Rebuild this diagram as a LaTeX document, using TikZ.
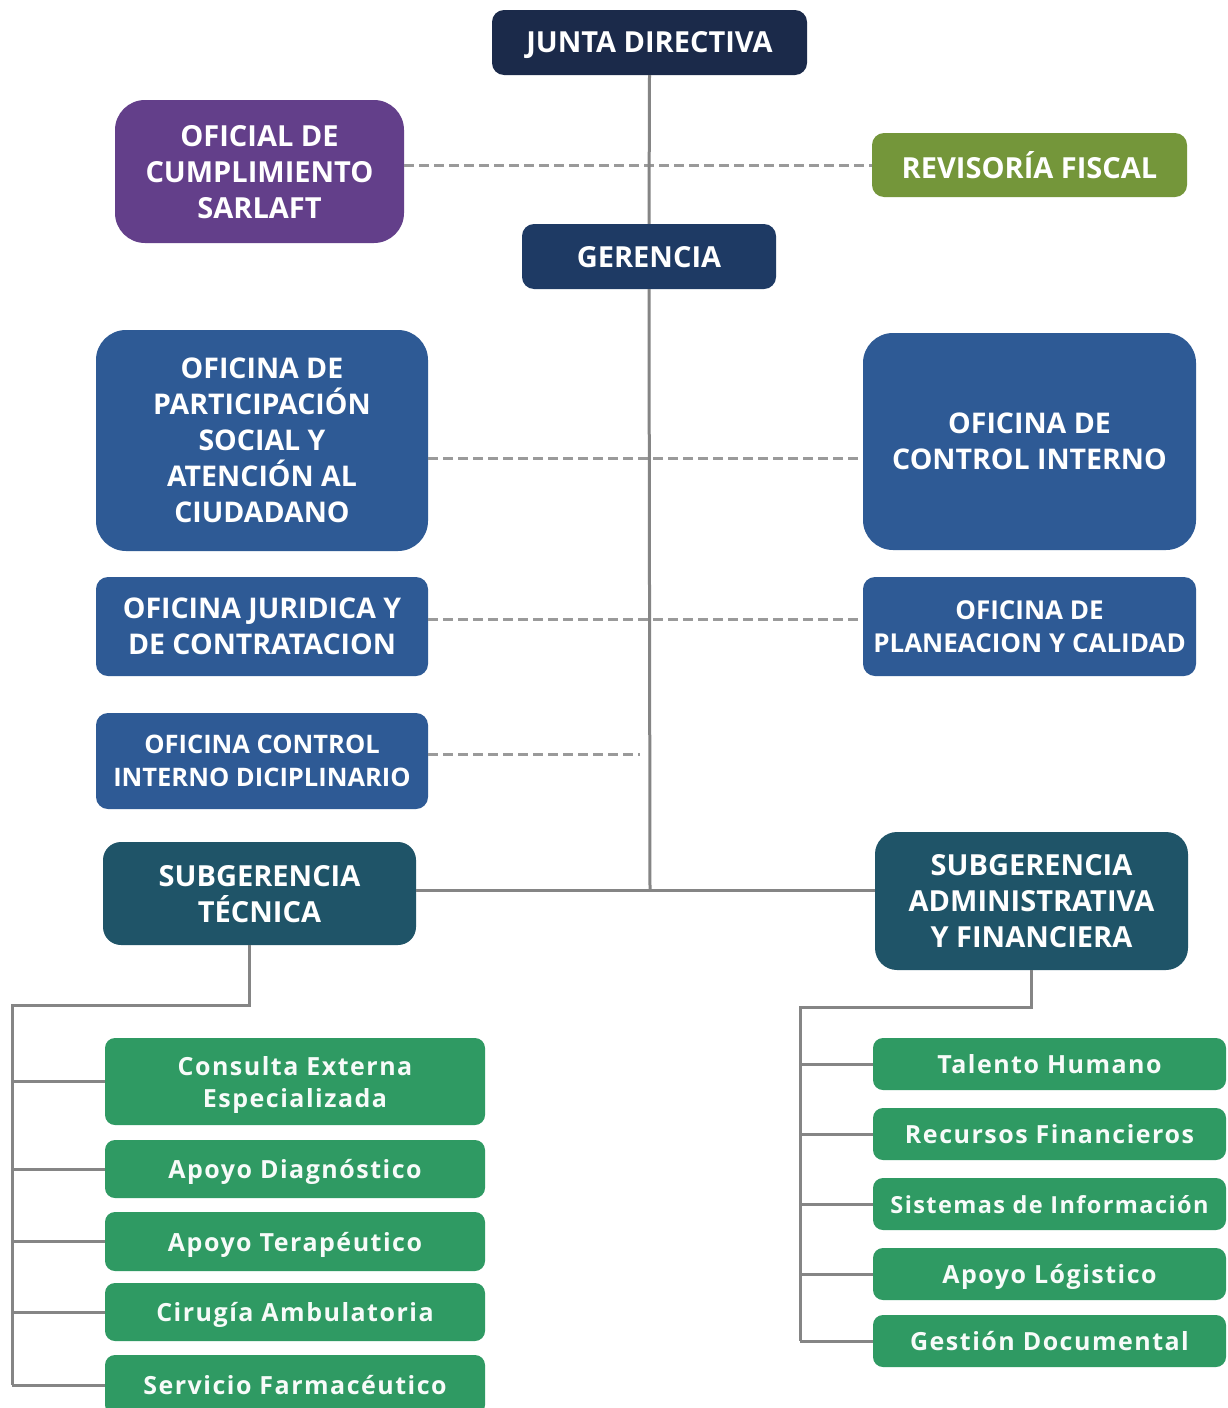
\documentclass[tikz,border=0pt]{standalone}
\usepackage{fontspec}
\setmainfont{Open Sans}
\newfontfamily\greenfont[LetterSpace=6]{Open Sans}
\usetikzlibrary{calc}
\definecolor{cJunta}{HTML}{1B2A4A}
\definecolor{cGer}{HTML}{1E3A64}
\definecolor{cPurple}{HTML}{633F8A}
\definecolor{cOlive}{HTML}{74963A}
\definecolor{cBlue}{HTML}{2E5A95}
\definecolor{cTeal}{HTML}{1F5468}
\definecolor{cGreen}{HTML}{2F9A63}
\definecolor{cLine}{HTML}{858585}
\definecolor{cDash}{HTML}{9A9A9A}
\tikzset{
  box/.style={rounded corners=12pt, inner sep=0pt, align=center, text depth=0pt, text=white, font=\bfseries\fontsize{29}{36}\selectfont},
  bigbox/.style={box, rounded corners=30pt},
  bluebox/.style={box, fill=cBlue, font=\bfseries\fontsize{28.5}{36}\selectfont},
  greenbox/.style={box, fill=cGreen, rounded corners=10pt, text=white!96!cGreen, font=\greenfont\bfseries\fontsize{25}{32}\selectfont},
  conn/.style={draw=cLine, line width=3pt},
  dconn/.style={draw=cDash, line width=3pt, dash pattern=on 10pt off 5pt},
}
\begin{document}
\begin{tikzpicture}[x=1pt,y=-1pt]
\clip (0,0) rectangle (1228,1408);
\fill[white] (0,0) rectangle (1228,1408);
% top level
\node[box, fill=cJunta, minimum width=315pt, minimum height=65pt] (junta) at (649.5,42.5) {JUNTA DIRECTIVA};
\node[box, fill=cGer, minimum width=254pt, minimum height=65pt] (ger) at (649,256.5) {GERENCIA};
\node[bigbox, fill=cPurple, minimum width=289pt, minimum height=143pt] (ofi) at (259.5,171.5) {OFICIAL DE\\CUMPLIMIENTO\\SARLAFT};
\node[box, fill=cOlive, minimum width=315pt, minimum height=64pt] (rev) at (1029.5,165) {REVISORÍA FISCAL};
% offices
\node[bluebox, rounded corners=30pt, minimum width=332pt, minimum height=221pt] (part) at (262,440.5) {OFICINA DE\\PARTICIPACIÓN\\SOCIAL Y\\ATENCIÓN AL\\CIUDADANO};
\node[bluebox, rounded corners=30pt, minimum width=333pt, minimum height=217pt] (ctrl) at (1029.5,441.5) {OFICINA DE\\CONTROL INTERNO};
\node[bluebox, minimum width=332pt, minimum height=99pt] (jur) at (262,626.5) {OFICINA JURIDICA Y\\DE CONTRATACION};
\node[bluebox, minimum width=333pt, minimum height=99pt, font=\bfseries\fontsize{26}{33}\selectfont] (plan) at (1029.5,626.5) {OFICINA DE\\PLANEACION Y CALIDAD};
\node[bluebox, minimum width=332pt, minimum height=96pt, font=\bfseries\fontsize{25.5}{33}\selectfont] (dici) at (262,761) {OFICINA CONTROL\\INTERNO DICIPLINARIO};
% subgerencias
\node[box, rounded corners=18pt, fill=cTeal, minimum width=313pt, minimum height=103pt] (subtec) at (259.5,893.5) {SUBGERENCIA\\TÉCNICA};
\node[box, rounded corners=22pt, fill=cTeal, minimum width=313pt, minimum height=138pt] (subadm) at (1031.5,901) {SUBGERENCIA\\ADMINISTRATIVA\\Y FINANCIERA};
% left green
\node[greenbox, minimum width=380pt, minimum height=87pt] (cons) at (295,1081.5) {Consulta Externa\\Especializada};
\node[greenbox, minimum width=380pt, minimum height=58pt] (diag) at (295,1169) {Apoyo Diagnóstico};
\node[greenbox, minimum width=380pt, minimum height=59pt] (tera) at (295,1241.5) {Apoyo Terapéutico};
\node[greenbox, minimum width=380pt, minimum height=58pt] (ciru) at (295,1312) {Cirugía Ambulatoria};
\node[greenbox, minimum width=380pt, minimum height=60pt] (serv) at (295,1385) {Servicio Farmacéutico};
% right green
\node[greenbox, minimum width=353pt, minimum height=52pt] (tal) at (1049.5,1064) {Talento Humano};
\node[greenbox, minimum width=353pt, minimum height=52pt] (rec) at (1049.5,1134) {Recursos Financieros};
\node[greenbox, minimum width=353pt, minimum height=52pt, font=\greenfont\bfseries\fontsize{23.5}{32}\selectfont] (sis) at (1049.5,1204) {Sistemas de Información};
\node[greenbox, minimum width=353pt, minimum height=52pt] (log) at (1049.5,1274) {Apoyo Lógistico};
\node[greenbox, minimum width=353pt, minimum height=52pt] (ges) at (1049.5,1341) {Gestión Documental};
% coordinates
\coordinate (J) at (650,890);
\coordinate (dP) at (650,458);
\coordinate (dJ) at (650,619);
\coordinate (dD) at (640,754);
\coordinate (tL) at (249,1005);
\coordinate (sL) at (12,1005);
\coordinate (tR) at (1031,1007);
\coordinate (sR) at (800,1007);
% dashed
\draw[dconn] (ofi.east |- rev.west) -- (rev.west);
\draw[dconn] (part.east |- dP) -- (ctrl.west |- dP);
\draw[dconn] (jur.east |- dJ) -- (plan.west |- dJ);
\draw[dconn] (dici.east |- dD) -- (dD);
% solid
\draw[conn] (junta.south) -- (ger.north);
\draw[conn] (ger.south) -- (J);
\draw[conn] (subtec.east |- J) -- (J) -- (subadm.west |- J);
\draw[conn] (tL |- subtec.south) -- (tL) -- (sL) -- (sL |- serv.west);
\foreach \n in {cons,diag,tera,ciru,serv} \draw[conn] (sL |- \n.west) -- (\n.west);
\draw[conn] (tR |- subadm.south) -- (tR) -- (sR) -- (sR |- ges.west);
\foreach \n in {tal,rec,sis,log,ges} \draw[conn] (sR |- \n.west) -- (\n.west);
\end{tikzpicture}
\end{document}
